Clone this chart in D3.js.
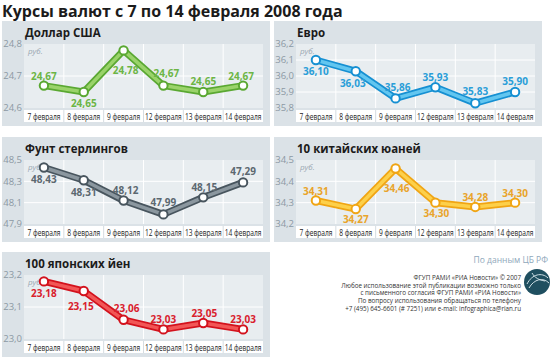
<!DOCTYPE html>
<html>
<head>
<meta charset="utf-8">
<script src="https://cdn.jsdelivr.net/npm/d3@7"></script>
<style>
  body { margin: 0; background: #fff; }
  svg { display: block; font-family: "Open Sans", sans-serif; }
</style>
</head>
<body>
<script>
// categories (x axis)
let dates = ["7 февраля", "8 февраля", "9 февраля", "12 февраля", "13 февраля", "14 февраля"]

// rates, rubles
let usd = [24.67, 24.65, 24.78, 24.67, 24.65, 24.67]
let eur = [36.10, 36.03, 35.86, 35.93, 35.83, 35.90]
let gbp = [48.43, 48.31, 48.12, 47.99, 48.15, 48.29]
let cny = [34.31, 34.27, 34.46, 34.30, 34.28, 34.30]
let jpy = [23.18, 23.15, 23.06, 23.03, 23.05, 23.03]

// the printed label on the last pound point reads 47,29
let gbpLabels = ["48,43", "48,31", "48,12", "47,99", "48,15", "47,29"]

// y ticks
let usdTicks = [24.6, 24.7, 24.8]
let eurTicks = [35.8, 35.9, 36.0, 36.1, 36.2]
let gbpTicks = [47.9, 48.1, 48.3, 48.5]
let cnyTicks = [34.2, 34.3, 34.4, 34.5]
let jpyTicks = [23.0, 23.1, 23.2]

let width = 550, height = 360

let ru = d3.formatLocale({ decimal: ",", thousands: " ", grouping: [3], currency: ["", " руб."] })
let fmt2 = ru.format(".2f"), fmt1 = ru.format(".1f")

let svg = d3.select("body").append("svg")
    .attr("width", width)
    .attr("height", height)

// main title
svg.append("text")
  .attr("x", 2).attr("y", 17)
  .attr("font-size", 16).attr("font-weight", 700)
  .attr("fill", "#1b1b1b")
  .text("Курсы валют с 7 по 14 февраля 2008 года")

// panels: col/row placement, colours, where each value label sits (offset from the point, px)
let panels = [
  { title: "Доллар США", values: usd, ticks: usdTicks, col: 0, row: 0,
    outer: "#5aa832", inner: "#9ad36a", text: "#6cb545",
    dy: [-9, 11, 20, -12, -11, -9], dx: [0, 0, 2, 3, 0, -2] },
  { title: "Евро", values: eur, ticks: eurTicks, col: 1, row: 0,
    outer: "#1690d2", inner: "#62c6f0", text: "#2a9ed8",
    dy: [11, 12, -11, -10, -12, -11], dx: [0, -3, 2, 0, 0, 0] },
  { title: "Фунт стерлингов", values: gbp, labels: gbpLabels, ticks: gbpTicks, col: 0, row: 1,
    outer: "#48555e", inner: "#8b979f", text: "#5c6870",
    dy: [12, 12, -10, -12, -10, -11], dx: [0, 0, 2, 0, 1, 0] },
  { title: "10 китайских юаней", values: cny, ticks: cnyTicks, col: 1, row: 1,
    outer: "#f0a514", inner: "#fdd04a", text: "#e9a42a",
    dy: [-9, 10, 20, 11, -9, -9], dx: [0, 0, 1, 1, 0, 0] },
  { title: "100 японских йен", values: jpy, ticks: jpyTicks, col: 0, row: 2,
    outer: "#d3121d", inner: "#f25656", text: "#d9202c",
    dy: [12, 15, -11, -10, -10, -10], dx: [0, -3, 3, 0, 1, 0] }
]

let colX = [2, 274], rowY = [21, 137, 252]
let panelW = 268, panelH = 105
let plotLeft = 22, plotW = 239, plotTop = 23, plotH = 64

panels.forEach(p => {
  let g = svg.append("g")
    .attr("transform", `translate(${colX[p.col]},${rowY[p.row]})`)

  g.append("rect")
    .attr("width", panelW).attr("height", panelH)
    .attr("fill", "#dbe2e7")

  g.append("text")
    .attr("x", plotLeft + 1).attr("y", 16)
    .attr("font-size", 11.5).attr("font-weight", 700)
    .attr("fill", "#1b1b1b")
    .text(p.title)

  let x = d3.scaleBand().domain(dates)
    .range([plotLeft, plotLeft + plotW])
  let y = d3.scaleLinear().domain(d3.extent(p.ticks))
    .range([plotTop + plotH, plotTop])

  // plot area
  g.append("rect")
    .attr("x", plotLeft).attr("y", plotTop)
    .attr("width", plotW).attr("height", plotH)
    .attr("fill", "#e8edf0")

  // grid
  g.selectAll(".hgrid").data(p.ticks.slice(1, -1)).enter().append("line")
    .attr("x1", plotLeft).attr("x2", plotLeft + plotW)
    .attr("y1", d => y(d)).attr("y2", d => y(d))
    .attr("stroke", "#fff").attr("stroke-width", 1)
  g.selectAll(".vgrid").data(dates.slice(1)).enter().append("line")
    .attr("x1", d => x(d)).attr("x2", d => x(d))
    .attr("y1", plotTop).attr("y2", plotTop + plotH)
    .attr("stroke", "#fff").attr("stroke-width", 1)

  g.append("text")
    .attr("x", plotLeft + 4).attr("y", plotTop + 10)
    .attr("font-size", 8).attr("font-style", "italic")
    .attr("fill", "#9aa7b1")
    .text("руб.")

  // y tick labels
  g.selectAll(".ytick").data(p.ticks).enter().append("text")
    .attr("x", plotLeft - 2).attr("y", d => y(d))
    .attr("dy", "0.35em").attr("text-anchor", "end")
    .attr("font-size", 9.5).attr("fill", "#8c99a4")
    .text(d => fmt1(d))

  // x axis strip
  let stripY = plotTop + plotH + 2
  g.append("rect")
    .attr("x", plotLeft).attr("y", stripY)
    .attr("width", plotW).attr("height", 12)
    .attr("fill", "#fff")
  g.selectAll(".xsep").data(dates.slice(1)).enter().append("line")
    .attr("x1", d => x(d)).attr("x2", d => x(d))
    .attr("y1", stripY).attr("y2", stripY + 12)
    .attr("stroke", "#d5dce1")
  // condensed look: each label squeezed horizontally around its centre
  g.selectAll(".xlab").data(dates).enter().append("g")
    .attr("transform", d => `translate(${x(d) + x.bandwidth() / 2},${stripY + 9.5}) scale(0.78,1)`)
    .append("text")
    .attr("text-anchor", "middle")
    .attr("font-size", 8.5).attr("fill", "#222")
    .text(d => d)

  // line
  let pts = p.values.map((v, i) => [x(dates[i]) + x.bandwidth() / 2, y(v)])
  let line = d3.line()
  g.append("path").attr("d", line(pts))
    .attr("fill", "none").attr("stroke", p.outer)
    .attr("stroke-width", 7).attr("stroke-linejoin", "round")
  g.append("path").attr("d", line(pts))
    .attr("fill", "none").attr("stroke", p.inner)
    .attr("stroke-width", 3.5).attr("stroke-linejoin", "round")

  g.selectAll(".dot").data(pts).enter().append("circle")
    .attr("cx", d => d[0]).attr("cy", d => d[1]).attr("r", 4.2)
    .attr("fill", "#fff").attr("stroke", p.outer).attr("stroke-width", 2)

  g.selectAll(".val").data(pts).enter().append("text")
    .attr("x", (d, i) => d[0] + p.dx[i])
    .attr("y", (d, i) => d[1] + p.dy[i])
    .attr("dy", "0.35em")
    .attr("text-anchor", "middle")
    .attr("font-size", 10).attr("font-weight", 700)
    .attr("fill", p.text)
    .text((d, i) => p.labels ? p.labels[i] : fmt2(p.values[i]))
})

// source and credits
svg.append("text")
  .attr("x", 548).attr("y", 263)
  .attr("text-anchor", "end")
  .attr("font-size", 8.5).attr("fill", "#8fa8bb")
  .text("По данным ЦБ РФ")

let credits = [
  "ФГУП РАМИ «РИА Новости» © 2007",
  "Любое использование этой публикации возможно только",
  "с письменного согласия  ФГУП РАМИ «РИА Новости»",
  "По вопросу использования обращаться по телефону",
  "+7 (495) 645-6601 (# 7251) или e-mail: infographica@rian.ru"
]
svg.selectAll(".credit").data(credits).enter().append("text")
  .attr("x", 521).attr("y", (d, i) => 280 + i * 7.7)
  .attr("text-anchor", "end")
  .attr("font-size", 6.3).attr("fill", "#333")
  .text(d => d)

// logo
let logo = svg.append("g").attr("transform", "translate(537,282)")
logo.append("circle").attr("r", 13).attr("fill", "#1f4f60")
logo.append("path")
  .attr("d", "M-10,2 C-5,-8 5,-10 11,-4 M-8,6 C-3,-3 6,-5 12,1 M-5,-9 C-2,-4 2,-2 8,-1")
  .attr("fill", "none").attr("stroke", "#cfe0e6").attr("stroke-width", 1)
</script>
</body>
</html>
